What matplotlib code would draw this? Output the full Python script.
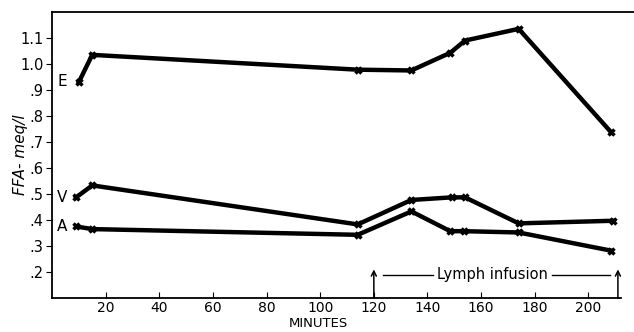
import matplotlib.pyplot as plt
import numpy as np

# minutes and FFA (meq/l) for each sample
t_E = [10, 15, 114, 134, 148.5, 154, 174, 208.5]
E = [0.93, 1.035, 0.978, 0.975, 1.043, 1.09, 1.135, 0.737]

t_V = [9, 15, 114, 134, 149, 154, 174, 209]
V = [0.487, 0.533, 0.383, 0.477, 0.487, 0.487, 0.387, 0.397]

t_A = [9, 15, 114, 134, 148.5, 153.5, 174, 208.5]
A = [0.375, 0.365, 0.343, 0.433, 0.357, 0.357, 0.352, 0.282]

xticks = [20, 40, 60, 80, 100, 120, 140, 160, 180, 200]
yticks = [0.2, 0.3, 0.4, 0.5, 0.6, 0.7, 0.8, 0.9, 1.0, 1.1]
ylabels = ['.2', '.3', '.4', '.5', '.6', '.7', '.8', '.9', '1.0', '1.1']

fig = plt.figure(figsize=(6.34, 3.32), dpi=100)
ax = fig.add_axes([0.082, 0.1024, 0.918, 0.8616])

for t, y, lab, ly in [(t_E, E, 'E', 0.932), (t_V, V, 'V', 0.485), (t_A, A, 'A', 0.374)]:
    ax.plot(t, y, color='black', lw=3.2, marker='x', ms=5, mew=2.5)
    ax.text(3.8, ly, lab, fontsize=11, ha='center', va='center')

ax.set_xlim(0, 217)
ax.set_ylim(0.1, 1.2)
ax.set_xticks(xticks)
ax.set_yticks(yticks)
ax.set_yticklabels(ylabels)
ax.tick_params(axis='x', direction='in', length=4, labelsize=10, pad=2)
ax.tick_params(axis='y', direction='out', length=4, labelsize=10.5, pad=2)
ax.spines['right'].set_visible(False)
ax.spines['bottom'].set_bounds(0, 212)
for s in ax.spines.values():
    s.set_linewidth(1.3)

ax.set_xlabel('MINUTES', fontsize=9.5, va='top')
ax.xaxis.set_label_coords(0.457, -0.068)
ax.set_ylabel('FFA- meq/l', fontsize=11, style='italic')
ax.yaxis.set_label_coords(-0.042, 0.5)

# lymph infusion marker
for xa in [120, 211]:
    ax.annotate('', xy=(xa, 0.21), xytext=(xa, 0.1),
                arrowprops=dict(arrowstyle='->', color='black', lw=1.1,
                                mutation_scale=9, shrinkA=0, shrinkB=0))
ax.plot([123.5, 142], [0.19, 0.19], color='black', lw=1)
ax.plot([186.5, 208], [0.19, 0.19], color='black', lw=1)
ax.text(164.3, 0.19, 'Lymph infusion', fontsize=10.5, ha='center', va='center')

fig.savefig('out.png', dpi=100)
